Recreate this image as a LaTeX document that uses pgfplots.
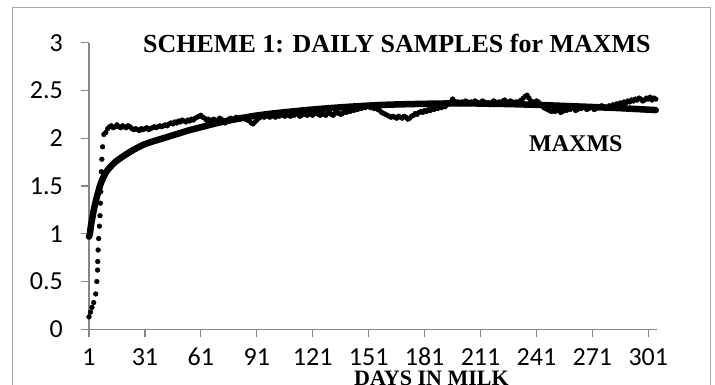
\documentclass[border=0pt]{standalone}
\usepackage{fontspec}
\setmainfont{Liberation Serif}
\newfontfamily\tickfont{Carlito}
\usepackage{pgfplots}
\pgfplotsset{compat=1.18}
\usepackage{pgfplotstable}
\definecolor{axisgray}{RGB}{134,134,134}
\definecolor{framegray}{RGB}{170,170,170}

\pgfplotstableread{
x y
1.0 0.13
1.8 0.18
2.6 0.23
3.5 0.28
4.6 0.37
5.2 0.50
5.6 0.62
5.7 0.71
5.9 0.83
6.2 0.95
6.6 1.08
6.9 1.19
7.1 1.32
7.3 1.44
7.6 1.56
7.6 1.65
7.9 1.78
8.3 1.91
9.0 2.04
10 2.06
11 2.10
12 2.12
13 2.13
14 2.11
15 2.12
16 2.14
17 2.12
18 2.11
19 2.13
20 2.12
21 2.11
22 2.13
23 2.12
24 2.10
25 2.09
26 2.10
27 2.09
28 2.08
29 2.10
30 2.09
31 2.10
32 2.11
33 2.09
34 2.10
35 2.11
36 2.12
37 2.11
38 2.12
39 2.13
40 2.12
41 2.13
42 2.14
43 2.13
44 2.15
45 2.16
46 2.15
47 2.17
48 2.16
49 2.18
50 2.17
51 2.19
52 2.18
53 2.17
54 2.19
55 2.18
56 2.20
57 2.19
58 2.21
59 2.22
60 2.23
61 2.24
62 2.22
63 2.21
64 2.19
65 2.20
66 2.18
67 2.19
68 2.20
69 2.18
70 2.19
71 2.21
72 2.20
73 2.18
74 2.16
75 2.18
76 2.20
77 2.21
78 2.19
79 2.20
80 2.22
81 2.21
82 2.20
83 2.22
84 2.21
85 2.20
86 2.19
87 2.18
88 2.16
89 2.15
90 2.17
91 2.19
92 2.21
93 2.22
94 2.23
95 2.22
96 2.24
97 2.23
98 2.22
99 2.24
100 2.23
101 2.22
102 2.24
103 2.23
104 2.25
105 2.24
106 2.23
107 2.25
108 2.24
109 2.23
110 2.25
111 2.24
112 2.26
113 2.25
114 2.23
115 2.24
116 2.26
117 2.25
118 2.24
119 2.26
120 2.25
121 2.24
122 2.26
123 2.27
124 2.25
125 2.24
126 2.26
127 2.25
128 2.24
129 2.26
130 2.27
131 2.25
132 2.24
133 2.26
134 2.27
135 2.26
136 2.25
137 2.26
138 2.28
139 2.27
140 2.29
141 2.28
142 2.30
143 2.29
144 2.31
145 2.30
146 2.32
147 2.31
148 2.33
149 2.32
150 2.33
151 2.34
152 2.32
153 2.33
154 2.31
155 2.32
156 2.30
157 2.29
158 2.27
159 2.26
160 2.25
161 2.24
162 2.23
163 2.22
164 2.23
165 2.22
166 2.21
167 2.23
168 2.22
169 2.21
170 2.23
171 2.22
172 2.20
173 2.21
174 2.23
175 2.24
176 2.26
177 2.25
178 2.27
179 2.28
180 2.27
181 2.29
182 2.28
183 2.30
184 2.29
185 2.31
186 2.30
187 2.32
188 2.31
189 2.33
190 2.32
191 2.34
192 2.33
193 2.35
194 2.36
195 2.38
196 2.41
197 2.39
198 2.37
199 2.38
200 2.36
201 2.38
202 2.37
203 2.39
204 2.38
205 2.36
206 2.38
207 2.37
208 2.39
209 2.38
210 2.36
211 2.37
212 2.39
213 2.38
214 2.36
215 2.37
216 2.35
217 2.37
218 2.39
219 2.38
220 2.36
221 2.38
222 2.37
223 2.39
224 2.40
225 2.38
226 2.37
227 2.39
228 2.38
229 2.36
230 2.38
231 2.37
232 2.39
233 2.40
234 2.42
235 2.44
236 2.45
237 2.42
238 2.39
239 2.38
240 2.37
241 2.39
242 2.38
243 2.36
244 2.34
245 2.32
246 2.31
247 2.30
248 2.29
249 2.28
250 2.29
251 2.28
252 2.30
253 2.29
254 2.27
255 2.28
256 2.30
257 2.29
258 2.31
259 2.30
260 2.32
261 2.31
262 2.29
263 2.30
264 2.32
265 2.31
266 2.33
267 2.32
268 2.30
269 2.31
270 2.33
271 2.32
272 2.30
273 2.31
274 2.33
275 2.32
276 2.34
277 2.33
278 2.31
279 2.32
280 2.34
281 2.33
282 2.35
283 2.34
284 2.36
285 2.35
286 2.37
287 2.36
288 2.38
289 2.37
290 2.39
291 2.38
292 2.40
293 2.39
294 2.41
295 2.40
296 2.42
297 2.41
298 2.39
299 2.40
300 2.42
301 2.41
302 2.43
303 2.40
304 2.42
305 2.41
}\observed

\pgfplotstableread{
x y
1 0.97
1.5 1.00
2 1.08
3 1.19
4 1.29
5 1.37
6 1.44
7 1.51
8 1.56
10 1.64
12 1.69
15 1.75
20 1.82
25 1.88
30 1.93
35 1.965
40 1.995
45 2.025
50 2.055
55 2.085
60 2.11
70 2.16
80 2.20
90 2.235
100 2.26
115 2.29
130 2.315
145 2.335
160 2.35
180 2.36
200 2.365
220 2.36
240 2.35
260 2.335
280 2.32
300 2.30
305 2.295
}\fitted

\begin{document}
\begin{tikzpicture}
\draw[framegray, line width=1pt] (12pt,-8pt) rectangle (710pt,-420pt);
\begin{axis}[
  at={(89pt,-329.3pt)}, anchor=south west,
  scale only axis, width=567.7pt, height=286.6pt,
  xmin=1, xmax=305.5, ymin=0, ymax=3,
  clip=false,
  axis x line=bottom, axis y line=left,
  axis line style={-, draw=axisgray, line width=1.2pt},
  tick style={draw=axisgray, line width=1.2pt},
  tick align=outside, major tick length=8pt,
  xtick={1,31,61,91,121,151,181,211,241,271,301},
  xticklabels={1,31,61,91,121,151,181,211,241,271,301},
  ytick={0,0.5,1,1.5,2,2.5,3},
  yticklabels={0,0.5,1,1.5,2,2.5,3},
  ticklabel style={font=\tickfont\fontsize{26}{30}\selectfont, inner sep=0pt},
  yticklabel style={anchor=east, xshift=-18pt},
  xticklabel style={anchor=base, yshift=-28pt},
]
\addplot[black, line width=6.5pt, no marks, smooth, line cap=round, line join=round] table[x=x,y=y] {\fitted};
\addplot[black, only marks, mark=*, mark size=2.4pt] table[x=x,y=y] {\observed};
\end{axis}
\node[anchor=base west, inner sep=0pt, font=\fontsize{26}{30}\selectfont\bfseries] at (143pt,-53pt) {SCHEME 1: DAILY SAMPLES for MAXMS};
\node[anchor=base west, inner sep=0pt, font=\fontsize{24}{28}\selectfont\bfseries] at (529pt,-152pt) {MAXMS};
\node[anchor=base west, inner sep=0pt, font=\fontsize{22}{26}\selectfont\bfseries] at (354pt,-385pt) {DAYS IN MILK};
\pgfresetboundingbox
\useasboundingbox (0,0) rectangle (715pt,-385pt);
\end{tikzpicture}
\end{document}
